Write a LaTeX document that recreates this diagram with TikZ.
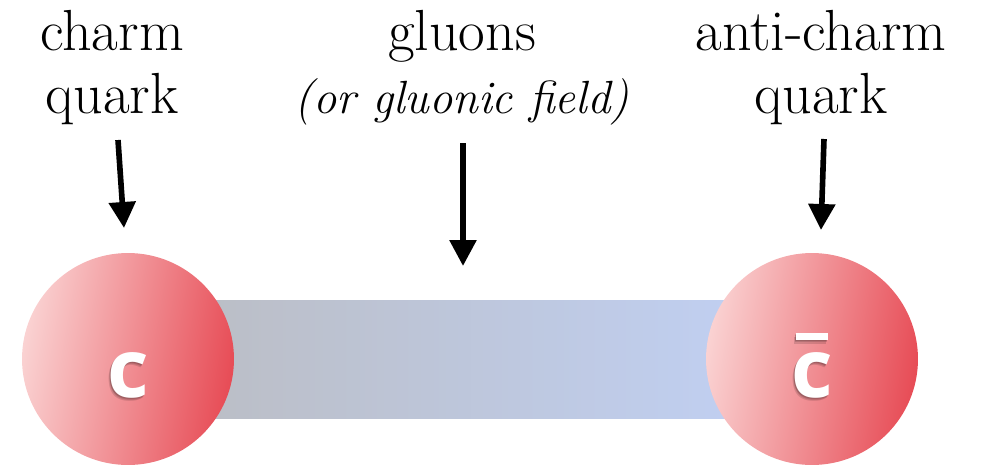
\documentclass[tikz,border=0pt]{standalone}
\usepackage{fontspec}
\usetikzlibrary{arrows.meta}
\newfontfamily\quarkfont{Open Sans}
% c with a heavy bar on top
\newcommand{\antic}{\ooalign{c\cr\hidewidth\rule[1.14cm]{0.64cm}{0.14cm}\hidewidth\cr}}

\definecolor{quarklight}{RGB}{250,210,210}
\definecolor{quarkdark}{RGB}{231,76,86}
\definecolor{barleft}{RGB}{187,190,198}
\definecolor{barright}{RGB}{192,207,241}

\tikzset{
  label/.style={font=\fontsize{33}{35.7}\selectfont, align=center, inner sep=0pt},
  quark/.style={circle, minimum size=4.24cm, inner sep=0pt,
    left color=quarklight, right color=quarkdark, shading angle=80},
  flavour/.style={font=\quarkfont\bfseries\fontsize{46}{50}\selectfont,
    text=white, anchor=base, inner sep=0pt},
  flavshadow/.style={flavour, text=black, opacity=0.13},
  pointer/.style={->, line width=3.2pt}
}

\begin{document}
\begin{tikzpicture}[x=0.02cm, y=-0.02cm, >={Triangle[length=5.2mm, width=5.2mm]}]

    \useasboundingbox (0,0) rectangle (981,464);

    % 1. Gluon field (bar between the quarks)
    \shade[left color=barleft, right color=barright] (205,300) rectangle (735,418);

    % 2. The two quarks
    \node[quark] (cq) at (128,359) {};
    \node[quark] (cbar) at (812,359) {};

    % letters with a soft shadow
    \foreach \d in {1,2,3} {
        \node[flavshadow] at (128-0.6*\d, 397+1.2*\d) {c};
        \node[flavshadow] at (812-0.6*\d, 397+1.2*\d) {\antic};
    }
    \node[flavour] (cqname) at (128,397) {c};
    \node[flavour] (cbarname) at (812,397) {\antic};

    % 3. Labels
    \node[label, anchor=north] (charm) at (112,10) {charm\\quark};
    \node[label, anchor=base] (gluons) at (462,50) {gluons};
    \node[font=\fontsize{26.5}{30}\selectfont\itshape, anchor=base, inner sep=0pt]
        (field) at (462,113) {(or gluonic field)};
    \node[label, anchor=north] (anticharm) at (821,10) {anti-charm\\quark};

    % 4. Arrows
    \coordinate (charmtail) at (118,140);
    \coordinate (charmtip) at (124,228);
    \coordinate (fieldtail) at (463,143);
    \coordinate (fieldtip) at (463,266);
    \coordinate (antitail) at (824,139);
    \coordinate (antitip) at (821,230);
    \draw[pointer] (charmtail) -- (charmtip);
    \draw[pointer] (fieldtail) -- (fieldtip);
    \draw[pointer] (antitail) -- (antitip);

\end{tikzpicture}
\end{document}
